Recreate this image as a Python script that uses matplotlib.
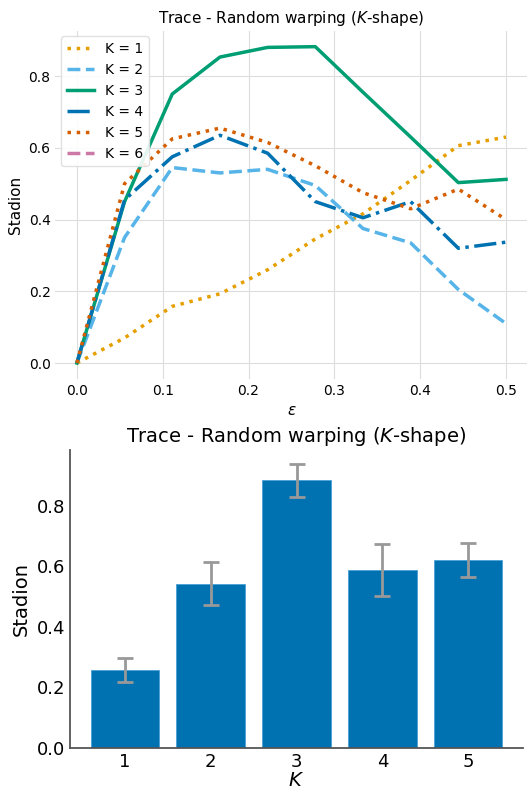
import matplotlib
matplotlib.use("Agg")
import matplotlib.pyplot as plt
import numpy as np

# noise levels (epsilon)
eps = np.linspace(0, 0.5, 10)

# stadion per K
k1 = [0.0, 0.07, 0.158, 0.193, 0.26, 0.346, 0.416, 0.509, 0.606, 0.63]
k2 = [0.0, 0.35, 0.545, 0.53, 0.54, 0.495, 0.375, 0.335, 0.205, 0.11]
k3 = [0.0, 0.45, 0.75, 0.853, 0.88, 0.882, 0.755, 0.63, 0.503, 0.512]
k4 = [0.0, 0.455, 0.575, 0.635, 0.585, 0.45, 0.405, 0.45, 0.32, 0.337]
k5 = [0.0, 0.50, 0.625, 0.655, 0.615, 0.55, 0.475, 0.43, 0.485, 0.40]
k6 = [np.nan] * 10

# bar chart: best stadion per K with error
bar_k = [1, 2, 3, 4, 5]
bar_val = [0.257, 0.543, 0.885, 0.588, 0.621]
bar_err = [0.039, 0.071, 0.054, 0.086, 0.055]

colors = ['#E69F00', '#56B4E9', '#009E73', '#0072B2', '#D55E00', '#CC79A7']
styles = [':', '--', '-', '-.', ':', '--']
series = [k1, k2, k3, k4, k5, k6]

fig = plt.figure(figsize=(5.28, 7.92), dpi=100)

# --- top: line plot ---
ax1 = fig.add_axes([0.105, 0.5217, 0.894, 0.4393])
for i, ys in enumerate(series):
    ax1.plot(eps, ys, color=colors[i], linestyle=styles[i], linewidth=2.5,
             label='K = %d' % (i + 1))
ax1.set_xlim(-0.025, 0.525)
ax1.set_ylim(-0.044, 0.926)
ax1.set_xticks([0.0, 0.1, 0.2, 0.3, 0.4, 0.5])
ax1.set_xticklabels(['0.0', '0.1', '0.2', '0.3', '0.4', '0.5'])
ax1.set_yticks([0.0, 0.2, 0.4, 0.6, 0.8])
ax1.grid(True, color='#dddddd', linewidth=0.8)
ax1.set_axisbelow(True)
for s in ax1.spines.values():
    s.set_visible(False)
ax1.tick_params(length=0, labelsize=10)
ax1.set_xlabel(r'$\varepsilon$', fontsize=11)
ax1.set_ylabel('Stadion', fontsize=11)
ax1.set_title(r'Trace - Random warping ($K$-shape)', fontsize=11)
ax1.legend(loc='upper left', fontsize=10, framealpha=0.9, edgecolor='#dddddd',
           borderaxespad=0.4)

# --- bottom: bar plot ---
ax2 = fig.add_axes([0.1326, 0.0559, 0.858, 0.3759])
ax2.bar(bar_k, bar_val, width=0.8, color='#0072B2', edgecolor='#4a9fd6', linewidth=0.6,
        yerr=bar_err, capsize=6, error_kw=dict(ecolor='#999999', elinewidth=2, capthick=2))
ax2.set_xlim(0.36, 5.64)
ax2.set_ylim(0, 0.985)
ax2.set_xticks(bar_k)
ax2.set_yticks([0.0, 0.2, 0.4, 0.6, 0.8])
ax2.spines['top'].set_visible(False)
ax2.spines['right'].set_visible(False)
ax2.spines['left'].set_color('#555555')
ax2.spines['bottom'].set_color('#555555')
ax2.spines['left'].set_linewidth(1.3)
ax2.spines['bottom'].set_linewidth(1.3)
ax2.tick_params(length=0, labelsize=13)
ax2.set_xlabel(r'$K$', fontsize=14, labelpad=0)
ax2.set_ylabel('Stadion', fontsize=14)
ax2.set_title(r'Trace - Random warping ($K$-shape)', fontsize=14)

plt.savefig('out.png', dpi=100)
